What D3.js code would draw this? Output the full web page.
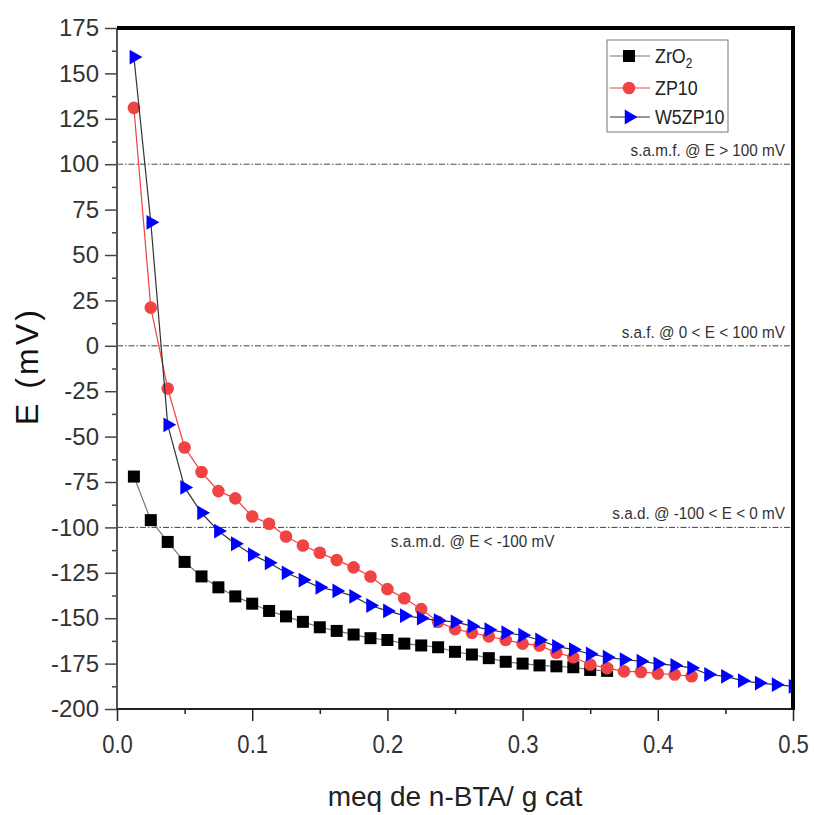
<!DOCTYPE html>
<html>
<head>
<meta charset="utf-8">
<script src="https://cdn.jsdelivr.net/npm/d3@7"></script>
<style>
  body { margin: 0; background: #fff; }
  svg { font-family: "Liberation Sans", Arial, sans-serif; }
</style>
</head>
<body>
<svg id="chart"></svg>
<script>
// x grid (meq de n-BTA / g cat)
const xVals = [0.0125, 0.025, 0.0375, 0.05, 0.0625, 0.075, 0.0875, 0.1, 0.1125, 0.125,
               0.1375, 0.15, 0.1625, 0.175, 0.1875, 0.2, 0.2125, 0.225, 0.2375, 0.25,
               0.2625, 0.275, 0.2875, 0.3, 0.3125, 0.325, 0.3375, 0.35, 0.3625, 0.375,
               0.3875, 0.4, 0.4125, 0.425, 0.4375, 0.45, 0.4625, 0.475, 0.4875, 0.5];

const zro2 = [-72, -96, -108, -119, -127, -133, -138, -142, -146, -149, -152, -155, -157, -159,
              -161, -162, -164, -165, -166, -168.5, -170, -172, -174, -175, -176, -176.5, -177,
              -178.5, -179];
const zp10 = [131, 21, -23.5, -56, -69.5, -80, -84, -94, -98, -105, -110, -114, -118, -122,
              -127, -134, -139, -145, -152, -156, -158, -160, -162, -164, -165, -169, -171.5,
              -175.5, -177.5, -179.3, -179.6, -180.5, -181, -182];
const w5zp10 = [159, 68, -43.5, -78, -92, -102, -109, -115, -119.5, -125, -129, -133, -135,
                -138, -143, -146, -148.6, -150, -151.3, -152, -154.4, -156.3, -158, -159.4,
                -162, -165.5, -167.3, -169.7, -171.5, -172.8, -173.7, -175.2, -176, -177.4,
                -181, -182, -184.4, -185.7, -186.6, -187.5];

const seriesNames = ["ZrO2", "ZP10", "W5ZP10"];
const yTicks = [-200, -175, -150, -125, -100, -75, -50, -25, 0, 25, 50, 75, 100, 125, 150, 175];
const xTicks = [0.0, 0.1, 0.2, 0.3, 0.4, 0.5];
const refLines = [100, 0, -100];
const refLabels = ["s.a.m.f. @ E > 100 mV", "s.a.f. @ 0 < E < 100 mV", "s.a.d. @ -100 < E < 0 mV"];
const belowLabel = "s.a.m.d. @ E < -100 mV";

const width = 814, height = 815;
const margin = {top: 28, right: 21, bottom: 106, left: 117};
const innerW = width - margin.left - margin.right;
const innerH = height - margin.top - margin.bottom;

const svg = d3.select("#chart").attr("width", width).attr("height", height);

const x = d3.scaleLinear().domain([0, 0.5]).range([margin.left, margin.left + innerW]);
const y = d3.scaleLinear().domain([-200, 175]).range([margin.top + innerH, margin.top]);

// clip for the data
svg.append("clipPath").attr("id", "plotClip")
  .append("rect")
  .attr("x", margin.left).attr("y", margin.top)
  .attr("width", innerW).attr("height", innerH);

// reference dash-dot lines
svg.append("g").selectAll("line").data(refLines).enter().append("line")
  .attr("x1", x(0)).attr("x2", x(0.5))
  .attr("y1", d => y(d)).attr("y2", d => y(d))
  .attr("stroke", "#444").attr("stroke-width", 1)
  .attr("stroke-dasharray", "6,2,1.5,2");

svg.append("g").selectAll("text").data(refLines).enter().append("text")
  .attr("x", x(0.5) - 8)
  .attr("y", d => y(d) - 8)
  .attr("text-anchor", "end")
  .attr("font-size", 17)
  .attr("fill", "#333")
  .attr("transform", `translate(${x(0.5) - 8},0) scale(0.9,1) translate(${-(x(0.5) - 8)},0)`)
  .text((d, i) => refLabels[i]);

svg.append("text")
  .attr("x", x(0.2025))
  .attr("y", y(-100) + 20)
  .attr("font-size", 17)
  .attr("fill", "#333")
  .attr("transform", `translate(${x(0.2025)},0) scale(0.9,1) translate(${-x(0.2025)},0)`)
  .text(belowLabel);

// series
const series = [
  {name: seriesNames[0], vals: zro2, line: "#777", shape: "square"},
  {name: seriesNames[1], vals: zp10, line: "#f04040", shape: "circle"},
  {name: seriesNames[2], vals: w5zp10, line: "#333", shape: "triangle"}
];

const lineGen = d3.line().x(d => x(d[0])).y(d => y(d[1]));

function drawMarker(sel, shape) {
  if (shape === "square") {
    sel.append("rect").attr("x", -6).attr("y", -6).attr("width", 12).attr("height", 12)
      .attr("fill", "#000");
  } else if (shape === "circle") {
    sel.append("circle").attr("r", 6.3).attr("fill", "#f04444");
  } else {
    sel.append("path")
      .attr("d", d3.symbol().type(d3.symbolTriangle).size(95)())
      .attr("transform", "rotate(90)")
      .attr("fill", "#0000ff");
  }
}

const plot = svg.append("g").attr("clip-path", "url(#plotClip)");

series.forEach(s => {
  const pts = s.vals.map((v, i) => [xVals[i], v]);
  plot.append("path")
    .datum(pts)
    .attr("d", lineGen)
    .attr("fill", "none")
    .attr("stroke", s.line)
    .attr("stroke-width", 1.2);
  const g = plot.append("g").selectAll("g").data(pts).enter().append("g")
    .attr("transform", d => `translate(${x(d[0])},${y(d[1])})`);
  drawMarker(g, s.shape);
});

// y axis
const yAxis = svg.append("g")
  .attr("transform", `translate(${margin.left},0)`)
  .call(d3.axisLeft(y).tickValues(yTicks).tickSize(12).tickPadding(6).tickFormat(d => String(d)));
yAxis.select(".domain").remove();
yAxis.selectAll(".tick line").attr("stroke", "#444").attr("stroke-width", 1.5);
yAxis.selectAll("text").attr("font-size", 24).attr("fill", "#333")
  .attr("font-family", "'Liberation Sans', Arial, sans-serif");

const yMinor = svg.append("g")
  .attr("transform", `translate(${margin.left},0)`)
  .call(d3.axisLeft(y).tickValues(yTicks.slice(0, -1).map(d => d + 12.5)).tickSize(5).tickFormat(""));
yMinor.select(".domain").remove();
yMinor.selectAll(".tick line").attr("stroke", "#444").attr("stroke-width", 1.5);

// x axis
const xAxis = svg.append("g")
  .attr("transform", `translate(0,${margin.top + innerH})`)
  .call(d3.axisBottom(x).tickValues(xTicks).tickSize(12).tickPadding(14).tickFormat(d3.format(".1f")));
xAxis.select(".domain").remove();
xAxis.selectAll(".tick line").attr("stroke", "#222").attr("stroke-width", 1.5);
xAxis.selectAll("text").attr("font-size", 26).attr("fill", "#333")
  .attr("font-family", "'Liberation Sans', Arial, sans-serif")
  .attr("transform", "scale(0.85,1)");

const xMinor = svg.append("g")
  .attr("transform", `translate(0,${margin.top + innerH})`)
  .call(d3.axisBottom(x).tickValues([0.05, 0.15, 0.25, 0.35, 0.45]).tickSize(5).tickFormat(""));
xMinor.select(".domain").remove();
xMinor.selectAll(".tick line").attr("stroke", "#222").attr("stroke-width", 1.5);

// frame: left/bottom thinner, top/right thick black
svg.append("line").attr("x1", margin.left).attr("x2", margin.left)
  .attr("y1", margin.top).attr("y2", margin.top + innerH)
  .attr("stroke", "#555").attr("stroke-width", 2);
svg.append("line").attr("x1", margin.left).attr("x2", margin.left + innerW)
  .attr("y1", margin.top + innerH).attr("y2", margin.top + innerH)
  .attr("stroke", "#222").attr("stroke-width", 2);
svg.append("line").attr("x1", margin.left).attr("x2", margin.left + innerW + 2)
  .attr("y1", margin.top).attr("y2", margin.top)
  .attr("stroke", "#000").attr("stroke-width", 4);
svg.append("line").attr("x1", margin.left + innerW).attr("x2", margin.left + innerW)
  .attr("y1", margin.top).attr("y2", margin.top + innerH + 1)
  .attr("stroke", "#000").attr("stroke-width", 4);

// axis titles
svg.append("text")
  .attr("transform", `translate(38,${y(-12)}) rotate(-90)`)
  .attr("text-anchor", "middle")
  .attr("font-size", 32)
  .attr("textLength", 115)
  .attr("lengthAdjust", "spacing")
  .attr("fill", "#111")
  .text("E (mV)");

svg.append("text")
  .attr("x", 455).attr("y", 806)
  .attr("text-anchor", "middle")
  .attr("font-size", 28)
  .attr("fill", "#222")
  .text("meq de n-BTA/ g cat");

// legend
const legend = svg.append("g").attr("transform", "translate(607,40)");
legend.append("rect").attr("width", 121).attr("height", 92)
  .attr("fill", "#fff").attr("stroke", "#777").attr("stroke-width", 1);
const legY = [16, 48, 77];
series.forEach((s, i) => {
  const row = legend.append("g").attr("transform", `translate(0,${legY[i]})`);
  row.append("line").attr("x1", 3).attr("x2", 43).attr("stroke", s.line).attr("stroke-width", 1.2);
  const m = row.append("g").attr("transform", "translate(22,0)");
  drawMarker(m, s.shape);
  const t = row.append("text").attr("x", 48).attr("y", 7)
    .attr("font-size", 21).attr("fill", "#222")
    .attr("transform", "translate(48,0) scale(0.85,1) translate(-48,0)");
  if (s.name === "ZrO2") {
    t.append("tspan").text("ZrO");
    t.append("tspan").attr("font-size", 14).attr("dy", 5).text("2");
  } else {
    t.text(s.name);
  }
});
</script>
</body>
</html>
